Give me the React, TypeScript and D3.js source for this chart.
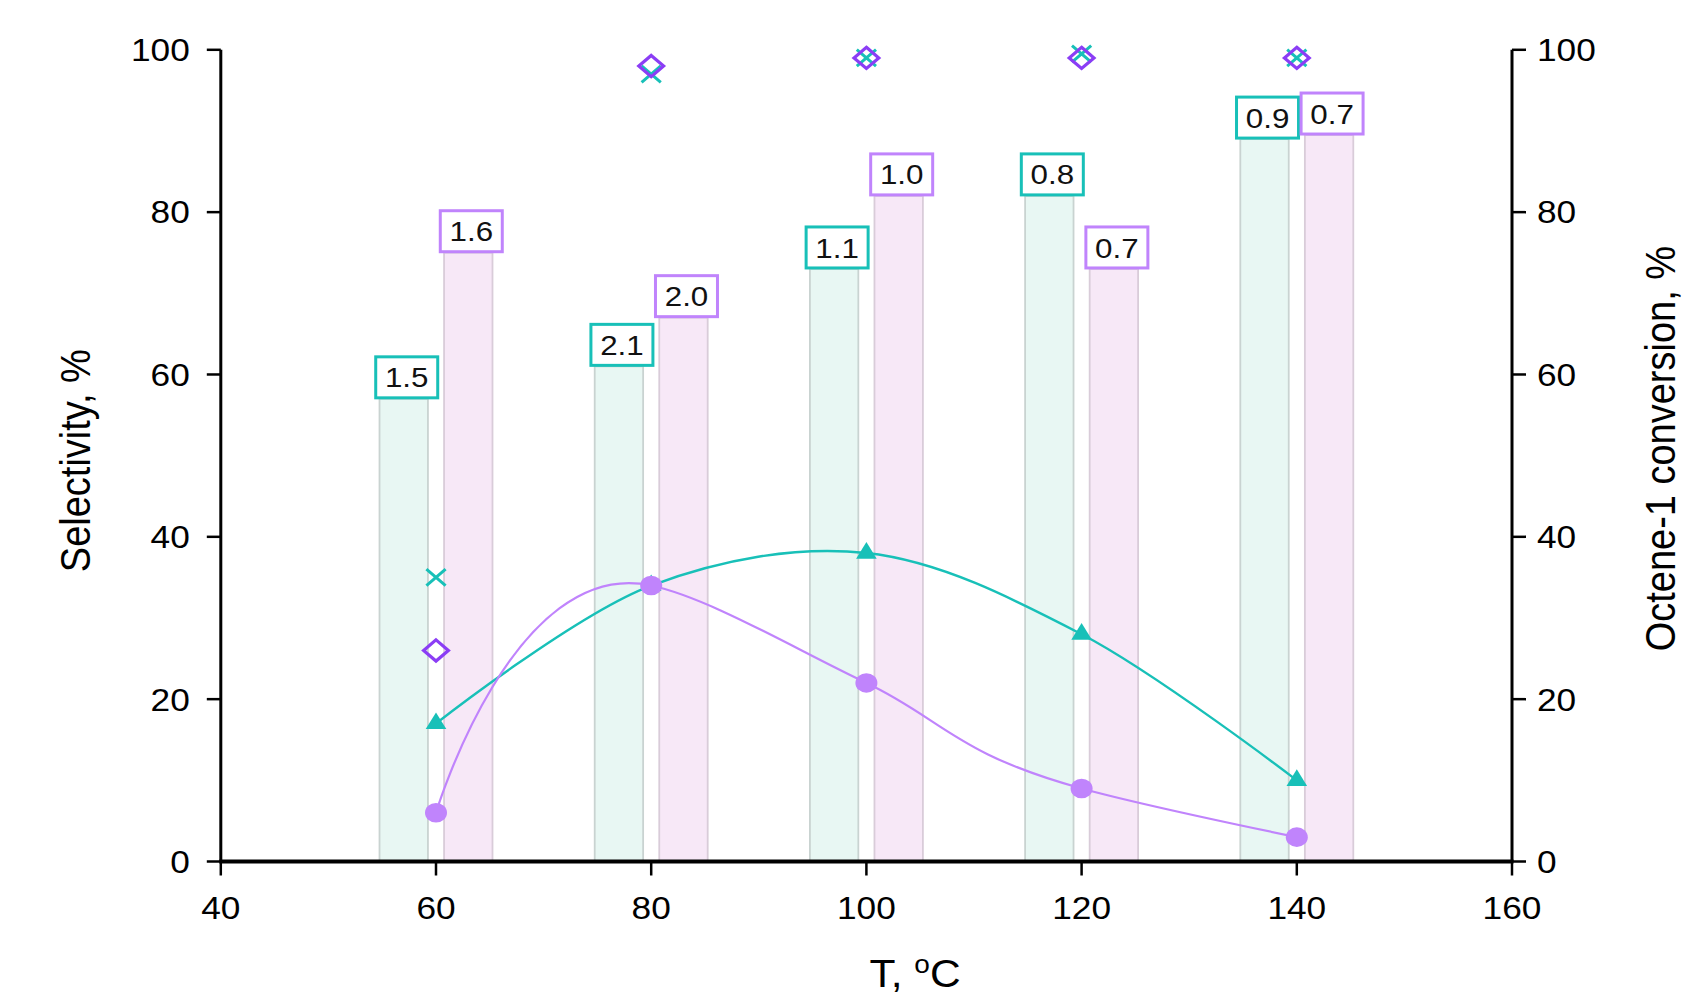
import React from "react";
import * as d3 from "d3";

// ---- data ----
const temps = [60, 80, 100, 120, 140];
const xTickValues = [40, 60, 80, 100, 120, 140, 160];
const yTickValues = [0, 20, 40, 60, 80, 100];
const conversionTeal = [57, 61, 73, 82, 89];
const conversionPurple = [75, 67, 82, 73, 89.5];
const labelsTeal = ["1.5", "2.1", "1.1", "0.8", "0.9"];
const labelsPurple = ["1.6", "2.0", "1.0", "0.7", "0.7"];
const selectivityTriangle = [17, 34, 38, 28, 10];
const selectivityCircle = [6, 34, 22, 9, 3];
const selectivityCross = [35, 97, 99, 99.5, 99];
const selectivityDiamond = [26, 98, 99, 99, 99];

// ---- layout / style ----
const W = 1697;
const H = 1000;
const PLOT = { left: 220.8, right: 1512, top: 49.8, bottom: 861.5 };
const BAR_OFFSET = 3.0;
const BAR_WIDTH = 4.5;
const SX = 1.12;
const FONT = "'Liberation Sans', Arial, Helvetica, sans-serif";
const TEAL = "#18c0b8";
const PURPLE = "#c084fc";
const VIOLET = "#8b3df5";
const TEAL_BAR = "#e8f7f3";
const TEAL_BAR_STROKE = "#c9d3d1";
const PINK_BAR = "#f7e8f7";
const PINK_BAR_STROKE = "#d9ccd9";
const K = 20;

export default function App() {
  const x = d3.scaleLinear().domain([40, 160]).range([PLOT.left, PLOT.right]);
  const yL = d3.scaleLinear().domain([0, 100]).range([PLOT.bottom, PLOT.top]);
  const yR = d3.scaleLinear().domain([0, 100]).range([PLOT.bottom, PLOT.top]);

  const tealLine = d3
    .line<number>()
    .x((_, i) => x(temps[i]))
    .y((d) => yL(d))
    .curve(d3.curveCatmullRom.alpha(0.5));
  const purpleLine = d3
    .line<number>()
    .x((_, i) => x(temps[i]) / K)
    .y((d) => yL(d))
    .curve(d3.curveCatmullRom.alpha(1));

  const bw = x(40 + BAR_WIDTH) - x(40);

  const bars = (vals: number[], off: number, fill: string, stroke: string) =>
    vals.map((v, i) => {
      const cx = x(temps[i] + off);
      return (
        <rect
          key={i}
          x={cx - bw / 2}
          y={yR(v)}
          width={bw}
          height={yR(0) - yR(v)}
          fill={fill}
          stroke={stroke}
          strokeWidth={1.8}
        />
      );
    });

  const boxes = (vals: number[], labels: string[], off: number, color: string) =>
    vals.map((v, i) => {
      const cx = x(temps[i] + off) + 3;
      const bottom = yR(v) - 1;
      const bwid = 62;
      const bh = 41;
      return (
        <g key={i}>
          <rect
            x={cx - bwid / 2}
            y={bottom - bh}
            width={bwid}
            height={bh}
            fill="#ffffff"
            stroke={color}
            strokeWidth={3}
          />
          <text
            transform={`translate(${cx},${bottom - bh / 2}) scale(${SX},1)`}
            textAnchor="middle"
            dy="0.36em"
            fontSize={28}
            fontFamily={FONT}
            fill="#111"
          >
            {labels[i]}
          </text>
        </g>
      );
    });

  const tri = (cx: number, cy: number) =>
    `M${cx},${cy - 11.1}L${cx + 10.3},${cy + 5.6}L${cx - 10.3},${cy + 5.6}Z`;
  const cross = (cx: number, cy: number) =>
    `M${cx - 9.6},${cy - 8.3}L${cx + 9.6},${cy + 8.3}M${cx + 9.6},${cy - 8.3}L${cx - 9.6},${cy + 8.3}`;
  const diamond = (cx: number, cy: number) =>
    `M${cx},${cy - 10.6}L${cx + 12.4},${cy}L${cx},${cy + 10.6}L${cx - 12.4},${cy}Z`;

  return (
    <svg
      width={W}
      height={H}
      style={{ position: "absolute", left: 0, top: 0, background: "#ffffff" }}
    >
      <rect x={0} y={0} width={W} height={H} fill="#ffffff" />
      {/* bars */}
      {bars(conversionTeal, -BAR_OFFSET, TEAL_BAR, TEAL_BAR_STROKE)}
      {bars(conversionPurple, BAR_OFFSET, PINK_BAR, PINK_BAR_STROKE)}

      {/* lines */}
      <path
        d={tealLine(selectivityTriangle) || ""}
        fill="none"
        stroke={TEAL}
        strokeWidth={2.4}
      />
      <path
        d={purpleLine(selectivityCircle) || ""}
        transform={`scale(${K},1)`}
        fill="none"
        stroke={PURPLE}
        strokeWidth={2.2}
        vectorEffect="non-scaling-stroke"
      />

      {/* markers */}
      {selectivityTriangle.map((v, i) => (
        <path key={"t" + i} d={tri(x(temps[i]), yL(v))} fill={TEAL} />
      ))}
      {selectivityCircle.map((v, i) => (
        <ellipse key={"c" + i} cx={x(temps[i])} cy={yL(v)} rx={11} ry={9.8} fill={PURPLE} />
      ))}
      {selectivityCross.map((v, i) => (
        <path
          key={"x" + i}
          d={cross(x(temps[i]), yL(v))}
          fill="none"
          stroke={TEAL}
          strokeWidth={3}
        />
      ))}
      {selectivityDiamond.map((v, i) => (
        <path
          key={"d" + i}
          d={diamond(x(temps[i]), yL(v))}
          fill="none"
          stroke={VIOLET}
          strokeWidth={3.2}
        />
      ))}

      {/* label boxes */}
      {boxes(conversionTeal, labelsTeal, -BAR_OFFSET, TEAL)}
      {boxes(conversionPurple, labelsPurple, BAR_OFFSET, PURPLE)}

      {/* axes */}
      <line x1={PLOT.left} x2={PLOT.left} y1={PLOT.top} y2={PLOT.bottom} stroke="#000" strokeWidth={3} />
      <line x1={PLOT.right} x2={PLOT.right} y1={PLOT.top} y2={PLOT.bottom} stroke="#000" strokeWidth={3} />
      <line x1={PLOT.left - 1.5} x2={PLOT.right + 1.5} y1={PLOT.bottom} y2={PLOT.bottom} stroke="#000" strokeWidth={4} />

      {yTickValues.map((v) => (
        <g key={"yl" + v}>
          <line x1={PLOT.left - 14} x2={PLOT.left} y1={yL(v)} y2={yL(v)} stroke="#000" strokeWidth={2.5} />
          <text
            transform={`translate(${PLOT.left - 31},${yL(v)}) scale(${SX},1)`}
            textAnchor="end"
            dy="0.36em"
            fontSize={31.5}
            fontFamily={FONT}
            fill="#000"
          >
            {v}
          </text>
        </g>
      ))}
      {yTickValues.map((v) => (
        <g key={"yr" + v}>
          <line x1={PLOT.right} x2={PLOT.right + 14} y1={yR(v)} y2={yR(v)} stroke="#000" strokeWidth={2.5} />
          <text
            transform={`translate(${PLOT.right + 25},${yR(v)}) scale(${SX},1)`}
            textAnchor="start"
            dy="0.36em"
            fontSize={31.5}
            fontFamily={FONT}
            fill="#000"
          >
            {v}
          </text>
        </g>
      ))}
      {xTickValues.map((v) => (
        <g key={"x" + v}>
          <line x1={x(v)} x2={x(v)} y1={PLOT.bottom} y2={PLOT.bottom + 14} stroke="#000" strokeWidth={2.5} />
          <text
            transform={`translate(${x(v)},${PLOT.bottom + 57}) scale(${SX},1)`}
            textAnchor="middle"
            fontSize={31.5}
            fontFamily={FONT}
            fill="#000"
          >
            {v}
          </text>
        </g>
      ))}

      {/* titles */}
      <text
        transform={`translate(76,${(PLOT.top + PLOT.bottom) / 2 + 5}) scale(${SX},1) rotate(-90)`}
        textAnchor="middle"
        dy="0.33em"
        fontSize={38}
        fontFamily={FONT}
        fill="#000"
      >
        Selectivity, %
      </text>
      <text
        transform={`translate(1661,${(PLOT.top + PLOT.bottom) / 2 - 7}) scale(${SX},1) rotate(-90)`}
        textAnchor="middle"
        dy="0.33em"
        fontSize={38}
        fontFamily={FONT}
        fill="#000"
      >
        Octene-1 conversion, %
      </text>
      <text
        transform={`translate(915,987) scale(${SX},1)`}
        textAnchor="middle"
        fontSize={38}
        fontFamily={FONT}
        fill="#000"
      >
        T,{" "}
        <tspan fontSize={25} dy={-14}>
          o
        </tspan>
        <tspan dy={14}>C</tspan>
      </text>
    </svg>
  );
}
